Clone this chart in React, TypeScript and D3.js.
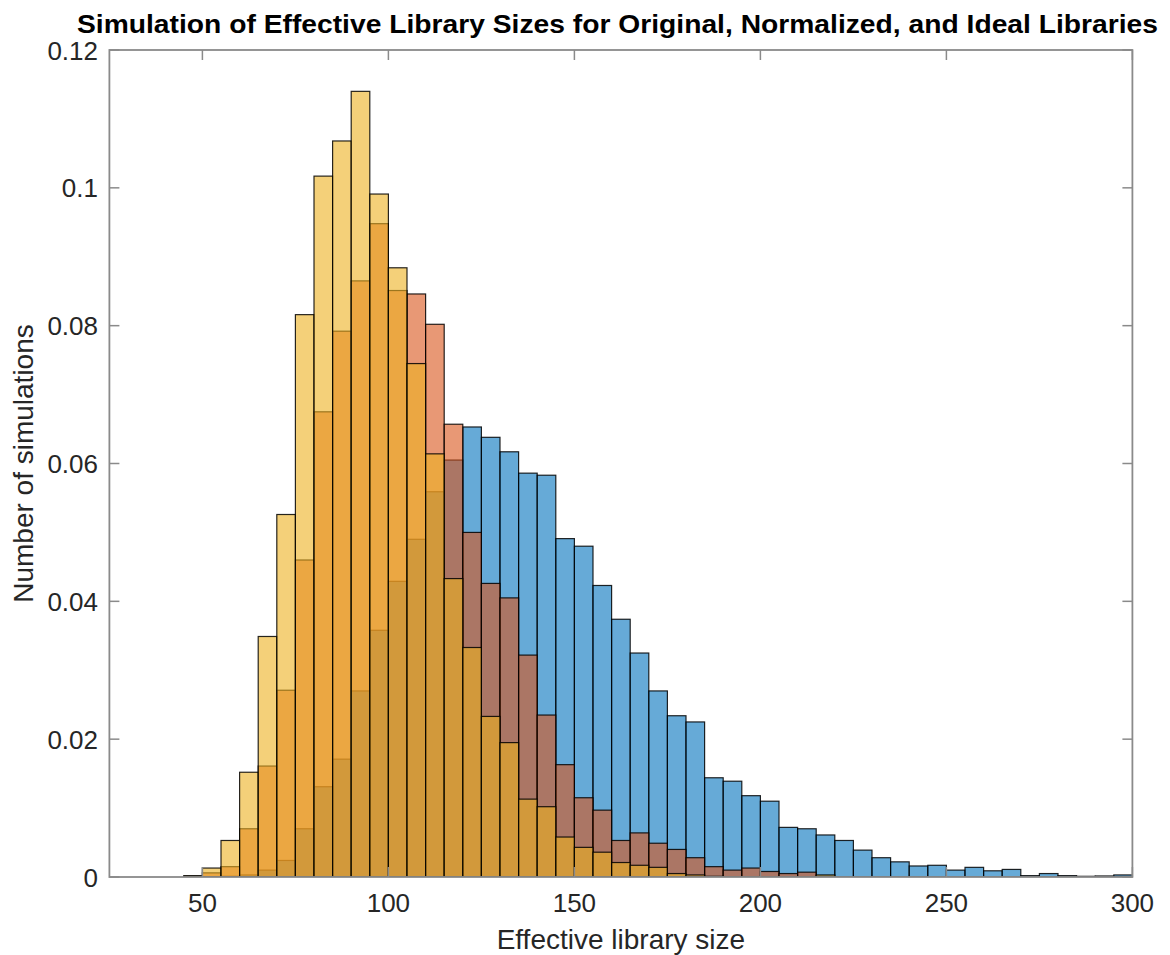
import React from "react";
import * as d3 from "d3";

// ---- Data (probability per 5-unit bin, bins start at values below) ----
const BIN_WIDTH = 5;
const BIN_STARTS = [
  45, 50, 55, 60, 65, 70, 75, 80, 85, 90, 95, 100, 105, 110, 115, 120, 125,
  130, 135, 140, 145, 150, 155, 160, 165, 170, 175, 180, 185, 190, 195, 200,
  205, 210, 215, 220, 225, 230, 235, 240, 245, 250, 255, 260, 265, 270, 275,
  280, 285, 290, 295,
];
const ORIGINAL = [
  0, 0, 0.0001, 0.0003, 0.001, 0.0024, 0.007, 0.0131, 0.0171, 0.027, 0.0358,
  0.0429, 0.049, 0.0559, 0.0605, 0.0653, 0.0638, 0.0617, 0.0586, 0.0583,
  0.0491, 0.048, 0.0423, 0.0374, 0.0325, 0.027, 0.0234, 0.0225, 0.0144,
  0.0139, 0.0118, 0.011, 0.0072, 0.007, 0.0061, 0.0053, 0.0039, 0.0028,
  0.0022, 0.0016, 0.0017, 0.001, 0.0014, 0.0009, 0.0011, 0.0002, 0.0005,
  0.0002, 0.0001, 0.00015, 0.0003,
];
const NORMALIZED = [
  0.0001, 0.0006, 0.0015, 0.007, 0.0161, 0.0271, 0.046, 0.0675, 0.0792,
  0.0865, 0.0948, 0.0851, 0.0846, 0.0802, 0.0657, 0.05, 0.0426, 0.0405,
  0.0322, 0.0235, 0.0163, 0.0115, 0.0097, 0.0053, 0.0064, 0.0049, 0.004,
  0.0028, 0.0015, 0.001, 0.0013, 0.0008, 0.0005, 0.0007, 0.0001, 0, 0, 0, 0,
  0, 0, 0, 0, 0, 0, 0, 0, 0, 0, 0, 0,
];
const IDEAL = [
  0.0002, 0.0013, 0.0053, 0.0152, 0.0349, 0.0526, 0.0816, 0.1017, 0.1068,
  0.114, 0.0991, 0.0884, 0.0745, 0.0614, 0.0433, 0.0333, 0.0233, 0.0195,
  0.0113, 0.0102, 0.0058, 0.0043, 0.0036, 0.0021, 0.0017, 0.0014, 0.0005,
  0.0003, 0.0001, 0, 0, 0, 0, 0, 0.0003, 0, 0, 0, 0, 0, 0, 0, 0, 0, 0, 0, 0,
  0, 0, 0, 0,
];
const X_TICKS = [50, 100, 150, 200, 250, 300];
const Y_TICKS = [0, 0.02, 0.04, 0.06, 0.08, 0.1, 0.12];
const Y_TICK_LABELS = ["0", "0.02", "0.04", "0.06", "0.08", "0.1", "0.12"];

const SERIES = [
  { name: "Original", values: ORIGINAL, color: "rgb(0,114,189)" },
  { name: "Normalized", values: NORMALIZED, color: "rgb(217,83,25)" },
  { name: "Ideal", values: IDEAL, color: "rgb(237,177,32)" },
];

const W = 1170;
const H = 955;
const M = { left: 109.4, right: 1132.4, top: 50, bottom: 877 };
const FONT = "'Liberation Sans', Arial, Helvetica, sans-serif";
const TEXT = "#262626";
const AXIS = "#8a8a8a";

export default function App() {
  const x = d3.scaleLinear().domain([25, 300]).range([M.left, M.right]);
  const y = d3.scaleLinear().domain([0, 0.12]).range([M.bottom, M.top]);
  const tickLen = 10;

  return (
    <svg
      width={W}
      height={H}
      style={{ position: "absolute", left: 0, top: 0, background: "#fff" }}
      fontFamily={FONT}
    >
      <rect x={0} y={0} width={W} height={H} fill="#fff" />
      <defs>
        <clipPath id="plotClip">
          <rect
            x={M.left}
            y={M.top}
            width={M.right - M.left}
            height={M.bottom - M.top}
          />
        </clipPath>
      </defs>
      <g clipPath="url(#plotClip)">
        {SERIES.map((s) => (
          <g key={s.name}>
            {s.values.map((v, i) =>
              v > 0 ? (
                <rect
                  key={i}
                  x={x(BIN_STARTS[i])}
                  y={y(v)}
                  width={x(BIN_STARTS[i] + BIN_WIDTH) - x(BIN_STARTS[i])}
                  height={y(0) - y(v)}
                  fill={s.color}
                  fillOpacity={0.6}
                  stroke="#000"
                  strokeWidth={1.2}
                  strokeOpacity={0.85}
                />
              ) : null
            )}
          </g>
        ))}
      </g>

      {/* box */}
      <rect
        x={M.left}
        y={M.top}
        width={M.right - M.left}
        height={M.bottom - M.top}
        fill="none"
        stroke={AXIS}
        strokeWidth={1.8}
      />
      {/* x ticks */}
      {X_TICKS.map((t) => (
        <g key={"xt" + t}>
          <line
            x1={x(t)}
            x2={x(t)}
            y1={M.bottom}
            y2={M.bottom - tickLen}
            stroke={AXIS}
            strokeWidth={1.5}
          />
          <line
            x1={x(t)}
            x2={x(t)}
            y1={M.top}
            y2={M.top + tickLen}
            stroke={AXIS}
            strokeWidth={1.5}
          />
          <text
            x={x(t)}
            y={912}
            textAnchor="middle"
            fontSize={26}
            fill={TEXT}
          >
            {t}
          </text>
        </g>
      ))}
      {/* y ticks */}
      {Y_TICKS.map((t, i) => (
        <g key={"yt" + t}>
          <line
            x1={M.left}
            x2={M.left + tickLen}
            y1={y(t)}
            y2={y(t)}
            stroke={AXIS}
            strokeWidth={1.5}
          />
          <line
            x1={M.right}
            x2={M.right - tickLen}
            y1={y(t)}
            y2={y(t)}
            stroke={AXIS}
            strokeWidth={1.5}
          />
          <text
            x={98}
            y={y(t) + 9.5}
            textAnchor="end"
            fontSize={26}
            fill={TEXT}
          >
            {Y_TICK_LABELS[i]}
          </text>
        </g>
      ))}

      {/* labels */}
      <text
        x={(M.left + M.right) / 2}
        y={949}
        textAnchor="middle"
        fontSize={28}
        fill={TEXT}
      >
        Effective library size
      </text>
      <text
        transform={`translate(33, ${(M.top + M.bottom) / 2}) rotate(-90)`}
        textAnchor="middle"
        fontSize={28}
        fill={TEXT}
      >
        Number of simulations
      </text>
      <text
        x={617.5}
        y={33}
        textAnchor="middle"
        fontSize={25}
        fontWeight="bold"
        fill="#000"
        textLength={1081}
        lengthAdjust="spacingAndGlyphs"
      >
        Simulation of Effective Library Sizes for Original, Normalized, and Ideal Libraries
      </text>
    </svg>
  );
}
